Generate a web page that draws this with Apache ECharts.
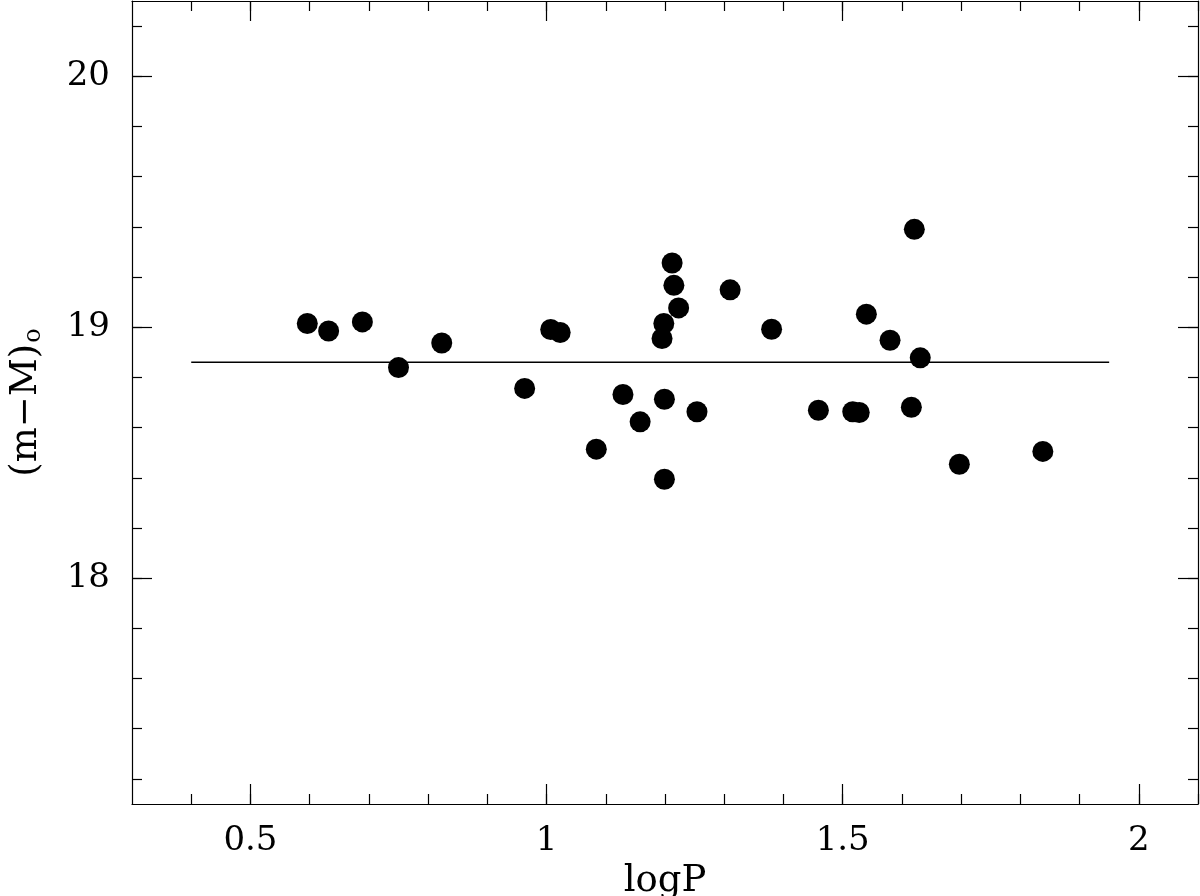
<!DOCTYPE html>
<html>
<head>
<meta charset="utf-8">
<title>(m-M)o vs logP</title>
<script src="https://cdn.jsdelivr.net/npm/echarts@6/dist/echarts.min.js"></script>
<style>
    html, body { margin: 0; padding: 0; background: #fff; }
    #main { width: 1200px; height: 896px; }
</style>
</head>
<body>
<div id="main"></div>
<script>
    // data
    var logP = [0.596, 0.632, 0.689, 0.750, 0.823, 0.963, 1.007, 1.023, 1.084, 1.129,
                1.158, 1.195, 1.198, 1.199, 1.199, 1.212, 1.215, 1.223, 1.254, 1.310,
                1.380, 1.459, 1.517, 1.528, 1.540, 1.580, 1.616, 1.621, 1.631, 1.697, 1.838];
    var distMod = [19.015, 18.985, 19.021, 18.839, 18.937, 18.756, 18.991, 18.979, 18.514, 18.732,
                   18.623, 18.955, 19.015, 18.713, 18.394, 19.256, 19.167, 19.077, 18.663, 19.149,
                   18.992, 18.669, 18.663, 18.660, 19.052, 18.948, 18.681, 19.390, 18.878, 18.454, 18.505];

    // mean line
    var meanX = [0.4, 1.95];
    var meanY = [18.86, 18.86];

    // ticks
    var xMajor = [0.5, 1, 1.5, 2];
    var xMinor = [0.4, 0.5, 0.6, 0.7, 0.8, 0.9, 1, 1.1, 1.2, 1.3, 1.4, 1.5, 1.6, 1.7, 1.8, 1.9, 2, 2.1];
    var yMajor = [18, 19, 20];
    var yMinor = [17.2, 17.4, 17.6, 17.8, 18, 18.2, 18.4, 18.6, 18.8, 19, 19.2, 19.4, 19.6, 19.8, 20, 20.2];

    var xMin = 0.3, xMax = 2.1, yMin = 17.1, yMax = 20.3;
    var font = 'DejaVu Serif';

    var points = logP.map(function (x, i) { return [x, distMod[i]]; });
    var meanLine = meanX.map(function (x, i) { return [x, meanY[i]]; });

    function xAxisDef(pos, ticks, len, withLabel) {
        return {
            type: 'value', position: pos, min: xMin, max: xMax,
            splitLine: {show: false},
            axisLine: {show: len > 10, onZero: false, lineStyle: {color: '#000', width: 1.2}},
            axisTick: {show: true, inside: true, length: len, customValues: ticks, lineStyle: {color: '#000', width: 1.2}},
            axisLabel: withLabel ? {
                customValues: xMajor, margin: 20, color: '#000',
                fontFamily: font, fontSize: 34
            } : {show: false},
            name: withLabel ? 'logP' : '',
            nameLocation: 'middle', nameGap: 52,
            nameTextStyle: {color: '#000', fontFamily: font, fontSize: 37}
        };
    }

    function yAxisDef(pos, ticks, len, withLabel) {
        return {
            type: 'value', position: pos, min: yMin, max: yMax,
            splitLine: {show: false},
            axisLine: {show: len > 10, onZero: false, lineStyle: {color: '#000', width: 1.2}},
            axisTick: {show: true, inside: true, length: len, customValues: ticks, lineStyle: {color: '#000', width: 1.2}},
            axisLabel: withLabel ? {
                customValues: yMajor, margin: 22, color: '#000',
                fontFamily: font, fontSize: 34
            } : {show: false},
            name: withLabel ? '(m\u2212M){sub|o}' : '',
            nameLocation: 'middle', nameGap: 86, nameRotate: 90,
            nameTextStyle: {
                color: '#000', fontFamily: font, fontSize: 37,
                rich: {sub: {fontFamily: font, fontSize: 24, color: '#000', padding: [16, 0, 0, 1]}}
            }
        };
    }

    var myChart = echarts.init(document.getElementById('main'));
    myChart.setOption({
        backgroundColor: '#fff',
        animation: false,
        grid: {left: 132, right: 2, top: 1, bottom: 92, outerBoundsMode: 'none'},
        xAxis: [
            xAxisDef('bottom', xMajor, 20, true),
            xAxisDef('bottom', xMinor, 10, false),
            xAxisDef('top', xMajor, 20, false),
            xAxisDef('top', xMinor, 10, false)
        ],
        yAxis: [
            yAxisDef('left', yMajor, 20, true),
            yAxisDef('left', yMinor, 10, false),
            yAxisDef('right', yMajor, 20, false),
            yAxisDef('right', yMinor, 10, false)
        ],
        series: [
            {
                type: 'line', data: meanLine, xAxisIndex: 0, yAxisIndex: 0,
                symbol: 'none', lineStyle: {color: '#000', width: 1.5}
            },
            {
                type: 'scatter', data: points, xAxisIndex: 0, yAxisIndex: 0,
                symbolSize: 21, itemStyle: {color: '#000', opacity: 1}
            }
        ]
    });
</script>
</body>
</html>
